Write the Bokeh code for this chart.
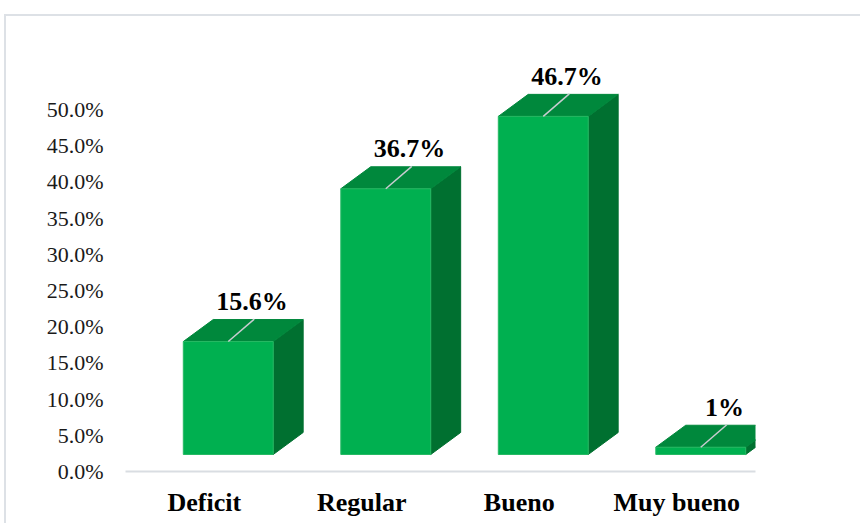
import numpy as np
from bokeh.plotting import figure
from bokeh.models import Range1d, FixedTicker, PrintfTickFormatter, ColumnDataSource
from bokeh.core.properties import value
from bokeh.embed import file_html
from bokeh.resources import INLINE

# ---- data ----
categories = ["Deficit", "Regular", "Bueno", "Muy bueno"]
values = [15.6, 36.7, 46.7, 1.0]
value_labels = ["15.6%", "36.7%", "46.7%", "1%"]
y_ticks = [0, 5, 10, 15, 20, 25, 30, 35, 40, 45, 50]

# ---- style constants ----
FRONT = "#00b050"
TOP = "#00883c"
SIDE = "#007030"
FONT = "Liberation Serif"
BORDER = "#dde1e6"
base = 2.35          # front face floor (data units)
left_off, right_off = -0.133, 0.438   # front face extent relative to category centre
dx, dy = 0.19, 3.04  # 3D depth offset (x units, y units)

p = figure(width=860, height=523, output_backend="svg", toolbar_location=None,
           x_range=Range1d(0, 4), y_range=Range1d(0, 59.53),
           min_border_left=125, min_border_right=105, min_border_top=40, min_border_bottom=52)
p.outline_line_color = None
p.xgrid.visible = False
p.ygrid.visible = False
p.background_fill_color = None
p.border_fill_color = None
# chart-area border drawn as CSS background lines behind the transparent canvas
p.styles = {
    "background-color": "white",
    "background-image": f"linear-gradient({BORDER},{BORDER}), linear-gradient({BORDER},{BORDER})",
    "background-size": "2px 100%, 100% 2px",
    "background-position": "4px 14px, 4px 14px",
    "background-repeat": "no-repeat",
}

centers = np.arange(len(categories)) + 0.5
vals = np.array(values)

front_xs, front_ys, top_xs, top_ys, side_xs, side_ys = [], [], [], [], [], []
for c, v in zip(centers, vals):
    x0, x1 = c + left_off, c + right_off
    y0, y1 = base, base + v
    front_xs.append([x0, x1, x1, x0]); front_ys.append([y0, y0, y1, y1])
    top_xs.append([x0, x1, x1 + dx, x0 + dx]); top_ys.append([y1, y1, y1 + dy, y1 + dy])
    side_xs.append([x1, x1 + dx, x1 + dx, x1]); side_ys.append([y0, y0 + dy, y1 + dy, y1])

p.patches(side_xs, side_ys, fill_color=SIDE, line_color=SIDE, line_width=1)
p.patches(top_xs, top_ys, fill_color=TOP, line_color=TOP, line_width=1)
p.patches(front_xs, front_ys, fill_color=FRONT, line_color="#27b964", line_width=1)

# leader lines
fc = centers + (left_off + right_off) / 2
lead_x0 = fc
lead_y0 = base + vals
lead_x1 = fc + 0.165
lead_y1 = base + vals + 3.1
p.segment(x0=lead_x0, y0=lead_y0, x1=lead_x1, y1=lead_y1, line_color="#c9ccd1", line_width=1.5)

src = ColumnDataSource(dict(x=fc + 0.15, y=base + vals + 5.5, t=value_labels))
p.text(x="x", y="y", text="t", source=src, text_align="center", text_baseline="middle",
       text_font=value(FONT), text_font_style="bold", text_font_size="26px", text_color="black")

# axes
p.yaxis.ticker = FixedTicker(ticks=y_ticks)
p.yaxis.formatter = PrintfTickFormatter(format="%.1f%%")
p.yaxis.axis_line_color = None
p.yaxis.major_tick_line_color = None
p.yaxis.minor_tick_line_color = None
p.yaxis.major_tick_out = 0
p.yaxis.major_label_standoff = 22
p.yaxis.major_label_text_font = FONT
p.yaxis.major_label_text_font_size = "22px"
p.yaxis.major_label_text_color = "#1a1a1a"

p.xaxis.ticker = FixedTicker(ticks=list(centers))
p.xaxis.major_label_overrides = {float(c): n for c, n in zip(centers, categories)}
p.xaxis.axis_line_color = "#d9dde2"
p.xaxis.axis_line_width = 2
p.xaxis.major_tick_line_color = None
p.xaxis.minor_tick_line_color = None
p.xaxis.major_tick_out = 0
p.xaxis.major_label_standoff = 16
p.xaxis.major_label_text_font = FONT
p.xaxis.major_label_text_font_style = "bold"
p.xaxis.major_label_text_font_size = "26px"
p.xaxis.major_label_text_color = "black"

open("out.html", "w").write(file_html(p, INLINE))
